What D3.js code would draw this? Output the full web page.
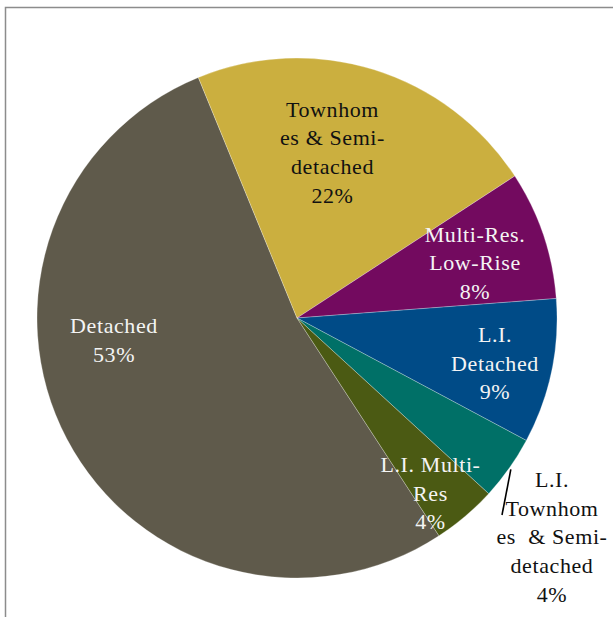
<!DOCTYPE html>
<html>
<head>
<meta charset="utf-8">
<script src="https://cdn.jsdelivr.net/npm/d3@7"></script>
<style>
  html, body { margin: 0; padding: 0; background: #fff; }
  svg { display: block; }
  text { font-family: "Liberation Serif", "Times New Roman", serif; font-size: 22px; letter-spacing: 0.6px; white-space: pre; }
</style>
</head>
<body>
<svg id="chart" width="613" height="617"></svg>
<script>
// Housing mix by dwelling type (share of units, %)
const categories = [
  "Detached",
  "Townhomes & Semi-detached",
  "Multi-Res. Low-Rise",
  "L.I. Detached",
  "L.I. Townhomes & Semi-detached",
  "L.I. Multi-Res"
];
const shares = [53, 22, 8, 9, 4, 4];
const sliceColors = ["#5f5a4b", "#cbaf3f", "#730a5f", "#004b87", "#007067", "#4b5a13"];

// Wrapped label lines, as printed on each slice
const labelLines = [
  ["Detached"],
  ["Townhom", "es & Semi-", "detached"],
  ["Multi-Res.", "Low-Rise"],
  ["L.I.", "Detached"],
  ["L.I.", "Townhom", "es  & Semi-", "detached"],
  ["L.I. Multi-", "Res"]
];
const labelInk = ["#f4f4f4", "#111", "#f4f4f4", "#f4f4f4", "#111", "#f4f4f4"];

// Label anchor (centre x, first baseline) relative to the pie centre
const labelAnchor = [
  [-183, 15], [35.5, -201.5], [178, -76.3], [198, 24], [255, 169], [133.5, 154]
];
const lineGap = 28.7;

const svg = d3.select("#chart");
const cx = 297, cy = 318, radius = 260;

// frame
svg.append("path")
  .attr("d", "M5.5,617 L5.5,7.5 L613,7.5")
  .attr("fill", "none")
  .attr("stroke", "#8c8c8c")
  .attr("stroke-width", 1.5);

const data = categories.map((c, i) => ({ name: c, value: shares[i], i }));

// first slice (Detached) begins so that Townhomes starts at about -22.3°
const start = (-22.3 - shares[0] * 3.6) * Math.PI / 180;
const pie = d3.pie().value(d => d.value).sort(null)
  .startAngle(start).endAngle(start + 2 * Math.PI);
const arc = d3.arc().innerRadius(0).outerRadius(radius);

const g = svg.append("g").attr("transform", `translate(${cx},${cy})`);

g.selectAll("path.slice")
  .data(pie(data))
  .join("path")
  .attr("class", "slice")
  .attr("d", arc)
  .attr("fill", d => sliceColors[d.data.i])
  .attr("stroke", "rgba(255,255,255,0.45)")
  .attr("stroke-width", 0.6);

// leader line for the small outside label
const ltArc = pie(data)[4];
const mid = (ltArc.startAngle + ltArc.endAngle) / 2;
const p0 = [Math.sin(mid) * (radius + 2) , -Math.cos(mid) * (radius + 2)];
g.append("path")
  .attr("d", `M${p0[0]},${p0[1] + 0} L${205},${197}`)
  .attr("fill", "none")
  .attr("stroke", "#000")
  .attr("stroke-width", 1.6);

const labels = g.selectAll("text.lbl")
  .data(data)
  .join("text")
  .attr("class", "lbl")
  .attr("text-anchor", "middle")
  .attr("fill", d => labelInk[d.i]);

labels.each(function (d) {
  const [ax, ay] = labelAnchor[d.i];
  const lines = labelLines[d.i].concat([d3.format("d")(d.value) + "%"]);
  d3.select(this).selectAll("tspan")
    .data(lines)
    .join("tspan")
    .attr("x", ax)
    .attr("y", (l, k) => ay + k * lineGap)
    .text(l => l);
});
</script>
</body>
</html>
